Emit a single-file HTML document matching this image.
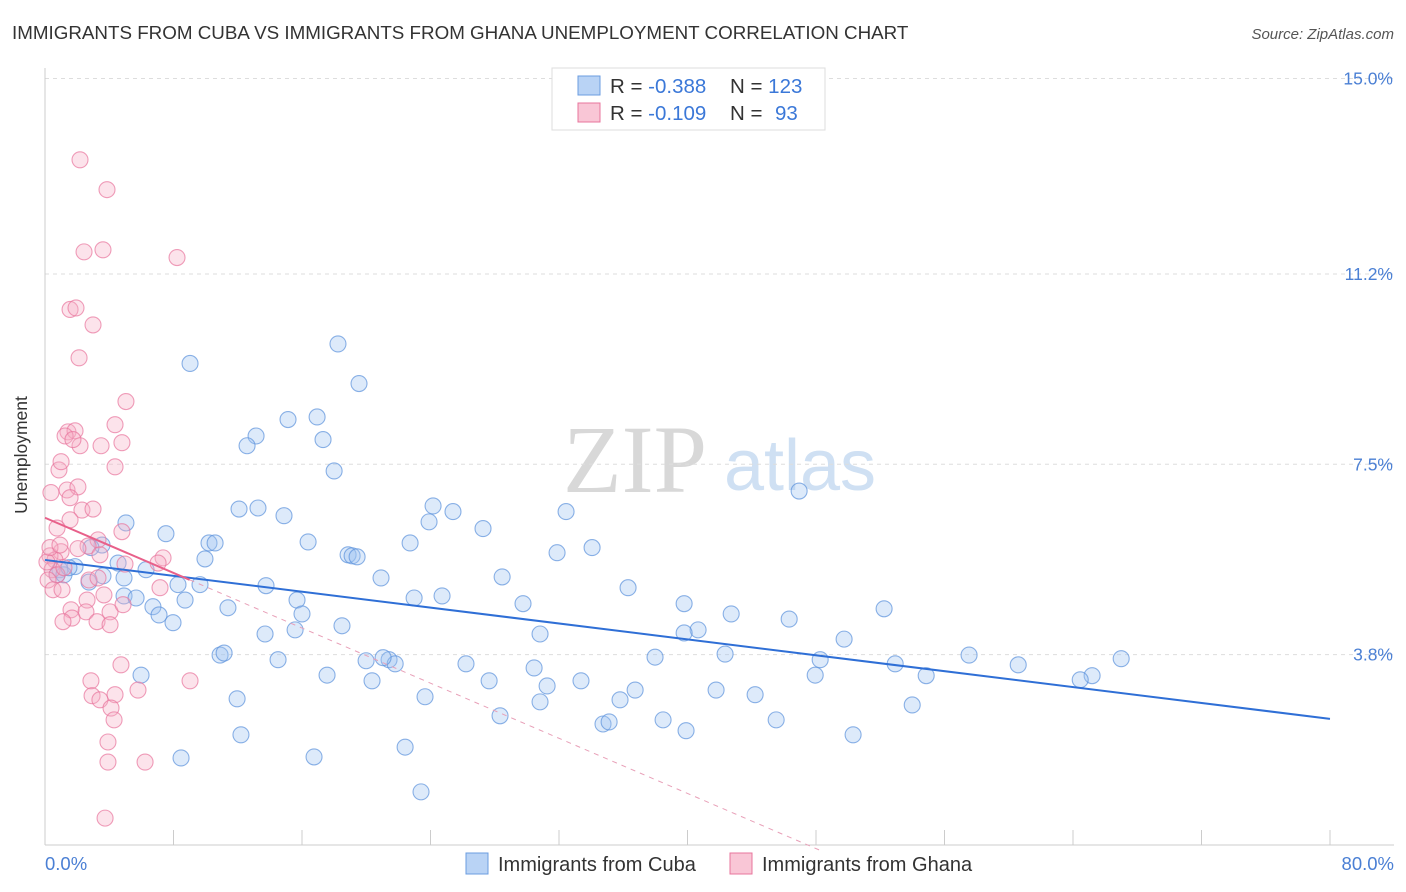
<!DOCTYPE html>
<html><head><meta charset="utf-8"><style>
body{margin:0;background:#fff;font-family:"Liberation Sans",sans-serif;}
svg{display:block}
</style></head><body>
<svg id="chart" width="1406" height="892" viewBox="0 0 1406 892">
<text x="12" y="39" font-size="18.8" fill="#333">IMMIGRANTS FROM CUBA VS IMMIGRANTS FROM GHANA UNEMPLOYMENT CORRELATION CHART</text>
<text x="1394" y="39" font-size="15" fill="#555" font-style="italic" text-anchor="end">Source: ZipAtlas.com</text>
<g>
<text x="635" y="492" font-size="96" font-family="Liberation Serif,serif" fill="#d8d8d8" text-anchor="middle">ZIP</text>
<text x="800" y="490" font-size="72" fill="#cfe0f3" text-anchor="middle">atlas</text>
</g>
<g id="grid"></g>
<g id="axes"></g>
<g id="pts"></g>
<g id="lines"></g>
<text x="27" y="455" font-size="17.5" fill="#333" text-anchor="middle" transform="rotate(-90 27 455)">Unemployment</text>
<text x="45" y="870" font-size="18.5" fill="#4a7fd4">0.0%</text>
<text x="1394" y="870" font-size="18.5" fill="#4a7fd4" text-anchor="end">80.0%</text>
<g>
<rect x="552" y="68" width="273" height="62" fill="#fff" stroke="#ddd"/>
<rect x="578" y="76" width="22" height="19" fill="#b9d3f5" stroke="#6b9de0"/>
<rect x="578" y="103" width="22" height="19" fill="#f9c6d6" stroke="#e8759c"/>
<text x="610" y="93" font-size="20.5" fill="#333">R = <tspan fill="#3b78d8">-0.388</tspan><tspan x="730">N = </tspan><tspan fill="#3b78d8">123</tspan></text>
<text x="610" y="120" font-size="20.5" fill="#333">R = <tspan fill="#3b78d8">-0.109</tspan><tspan x="730">N = </tspan><tspan fill="#3b78d8" x="775">93</tspan></text>
</g>
<g>
<rect x="466" y="853" width="22" height="21" fill="#b9d3f5" stroke="#6b9de0"/>
<text x="498" y="871" font-size="20" fill="#333">Immigrants from Cuba</text>
<rect x="730" y="853" width="22" height="21" fill="#f9c6d6" stroke="#e8759c"/>
<text x="762" y="871" font-size="20" fill="#333">Immigrants from Ghana</text>
</g>
</svg>
<script>
const yTicks=[15.0,11.2,7.5,3.8];
const yTickLabels=["15.0%","11.2%","7.5%","3.8%"];
const xTicks=[0,8,16,24,32,40,48,56,64,72,80];
const cubaX=[9.03,18.24,19.55,15.13,16.94,13.14,12.58,17.31,18.0,46.95,5.04,7.53,10.21,10.59,12.08,13.26,14.88,16.38,18.87,19.12,19.43,22.73,24.16,23.91,25.4,27.27,31.88,34.06,32.44,9.96,6.29,4.92,4.55,3.61,2.74,1.87,0.93,0.75,1.18,1.49,3.55,2.86,4.92,5.67,6.72,7.1,7.97,8.72,9.65,8.28,11.39,13.76,15.69,16.0,15.57,13.7,10.9,11.15,14.51,18.49,17.56,19.99,20.36,21.42,21.8,21.05,22.98,24.72,20.92,28.46,29.76,30.82,36.3,39.79,40.66,39.79,42.72,46.33,49.75,52.24,42.34,37.98,48.26,47.95,52.93,54.86,57.53,60.59,65.19,64.45,67.0,26.21,30.45,31.26,27.65,33.37,36.74,35.8,30.82,23.66,28.33,34.74,35.12,38.48,39.91,41.78,44.21,45.52,50.31,53.99,11.96,12.2,8.47,16.75,22.42,23.41,5.98];
const cubaY=[9.46,9.84,9.07,8.37,8.42,8.05,7.86,7.98,7.37,6.98,6.36,6.15,5.97,5.97,6.63,6.65,6.5,5.99,5.74,5.72,5.7,5.97,6.69,6.38,6.58,6.25,5.78,5.88,6.58,5.66,5.45,5.29,5.58,5.33,5.21,5.51,5.45,5.35,5.35,5.49,5.93,5.88,4.94,4.9,4.73,4.57,4.42,4.86,5.16,5.16,4.71,5.14,4.86,4.59,4.28,4.2,3.79,3.83,3.7,4.36,3.4,3.68,3.29,3.7,3.62,3.74,4.9,4.94,5.29,5.31,4.79,4.2,5.1,4.79,4.28,4.22,4.59,4.49,4.1,4.69,3.81,3.75,3.7,3.4,3.62,3.39,3.79,3.6,3.39,3.31,3.72,3.62,3.54,3.19,3.29,3.29,3.11,2.92,2.88,2.98,2.61,2.45,2.49,2.53,2.32,3.11,3.02,2.53,2.24,2.82,2.94,2.24,1.79,1.81,2.0,1.13,3.4];
const ghanaX=[2.18,3.86,2.43,3.61,8.22,1.56,1.93,2.99,2.12,5.04,4.36,1.43,1.87,1.25,2.18,1.74,3.49,4.79,4.36,0.87,1.0,1.37,2.05,0.37,2.3,2.99,1.56,1.56,0.75,4.79,3.3,2.68,2.05,1.0,3.42,4.98,7.35,7.04,0.31,0.62,0.44,0.75,0.19,0.5,1.06,2.74,3.3,2.62,3.67,2.55,1.62,1.68,3.24,4.05,4.05,4.86,1.12,9.03,7.16,4.73,2.86,2.93,4.36,3.42,4.11,4.3,5.79,3.92,3.92,6.23,3.74,0.12,0.31,0.93,1.18];
const ghanaY=[13.42,12.84,11.63,11.67,11.52,10.51,10.54,10.21,9.57,8.72,8.27,8.13,8.15,8.05,7.86,7.98,7.86,7.92,7.45,7.39,7.55,7.0,7.06,6.95,6.61,6.63,6.85,6.42,6.26,6.19,6.03,5.91,5.86,5.8,5.74,5.56,5.68,5.58,5.72,5.64,5.45,5.35,5.25,5.06,5.06,5.25,5.29,4.86,4.96,4.63,4.67,4.51,4.44,4.63,4.38,4.77,4.44,3.29,5.1,3.6,3.29,3.0,3.02,2.92,2.76,2.53,3.11,2.1,1.71,1.71,0.62,5.6,5.88,5.93,5.49];
const cubaTrend=[5.64,2.55];
const ghanaTrend=[6.46,-0.134];
const ghanaSolidEnd=9;
const NS='http://www.w3.org/2000/svg';
const X0=45,X1=1330,Y0=850,PPY=51.43;
const sx=v=>X0+(v/80)*(X1-X0);
const sy=v=>Y0-v*PPY;
function mk(tag,attrs,parent){const e=document.createElementNS(NS,tag);for(const k in attrs)e.setAttribute(k,attrs[k]);parent.appendChild(e);return e;}
const grid=document.getElementById('grid'),axes=document.getElementById('axes'),pts=document.getElementById('pts'),lines=document.getElementById('lines');
yTicks.forEach((t,i)=>{
  const l=mk('line',{x1:X0,x2:1394,y1:sy(t),y2:sy(t),stroke:'#ddd','stroke-dasharray':'4,4'},grid);
  
  
  const tx=mk('text',{x:1393,y:sy(t)+6,'font-size':17.5,fill:'#4a7fd4','text-anchor':'end'},grid);
  tx.textContent=yTickLabels[i];
  
  
});
const yl=mk('line',{x1:X0,x2:X0,y1:68,y2:845,stroke:'#ccc'},axes);


const xl=mk('line',{x1:X0,x2:1394,y1:845,y2:845,stroke:'#ccc'},axes);


xTicks.forEach(t=>{
  const l=mk('line',{x1:sx(t),x2:sx(t),y1:830,y2:845,stroke:'#ccc'},axes);
  
  
});
function dots(xs,ys,fill,stroke,name){
  xs.forEach((x,i)=>{
    const c=mk('circle',{cx:sx(x),cy:sy(ys[i]),r:8,fill:fill,'fill-opacity':0.35,stroke:stroke,'stroke-width':1.1,'stroke-opacity':0.7},pts);
    
    
  });
}
dots(cubaX,cubaY,'#9fc2f0','#5b92dc','cuba-point');
dots(ghanaX,ghanaY,'#f6aec5','#e8759c','ghana-point');
const bl=mk('line',{x1:sx(0),y1:sy(cubaTrend[0]),x2:sx(80),y2:sy(cubaTrend[1]),stroke:'#2f6fd6','stroke-width':2},lines);


const gy=x=>ghanaTrend[0]+ghanaTrend[1]*x;
const gs=mk('line',{x1:sx(0),y1:sy(gy(0)),x2:sx(ghanaSolidEnd),y2:sy(gy(ghanaSolidEnd)),stroke:'#e8608a','stroke-width':2},lines);


const xEnd=-ghanaTrend[0]/ghanaTrend[1];
const gd=mk('line',{x1:sx(ghanaSolidEnd),y1:sy(gy(ghanaSolidEnd)),x2:sx(xEnd),y2:sy(0),stroke:'#e8a0b8','stroke-width':1,'stroke-dasharray':'5,5'},lines);


</script>
</body></html>
